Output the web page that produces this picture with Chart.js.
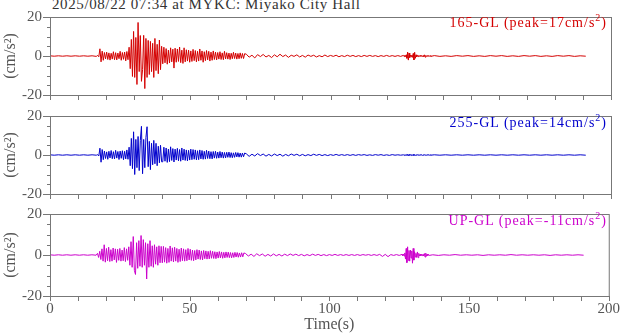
<!DOCTYPE html>
<html>
<head>
<meta charset="utf-8">
<script src="https://cdn.jsdelivr.net/npm/chart.js@4.4.0/dist/chart.umd.min.js"></script>
<style>
  body { margin: 0; background: #fff; }
  #wrap { position: relative; width: 624px; height: 334px; overflow: hidden; font-family: "Liberation Serif", serif; }
  canvas { position: absolute; left: 0; }
  .title { position: absolute; left: 52px; top: -3px; font-size: 15px; line-height: 14px; color: #333; letter-spacing: 0.6px; white-space: nowrap; }
  .peak { position: absolute; right: 17px; font-size: 14px; line-height: 14px; letter-spacing: 1px; white-space: nowrap; }
  .peak sup { font-size: 10px; line-height: 0; }
</style>
</head>
<body>
<div id="wrap">
  <div class="title">2025/08/22 07:34 at MYKC: Miyako City Hall</div>
  <canvas id="c1" width="624" height="112" style="top:0px"></canvas>
  <canvas id="c2" width="624" height="112" style="top:99px"></canvas>
  <canvas id="c3" width="624" height="137" style="top:197px"></canvas>
  <div class="peak" style="top:16px;color:#d40000">165-GL (peak=17cm/s<sup>2</sup>)</div>
  <div class="peak" style="top:116px;color:#0000cc">255-GL (peak=14cm/s<sup>2</sup>)</div>
  <div class="peak" style="top:214px;color:#cc00cc">UP-GL (peak=-11cm/s<sup>2</sup>)</div>
</div>
<script>
// sample timing of each record piece (s)
const segStart = [0, 17, 70, 126, 137];
const segStep = [1.5, 0.4, 1, 0.25, 2];

const yTickLabels = [-20, 0, 20];
const xTickLabels = [0, 50, 100, 150, 200];

// 165-GL (cm/s2)
const pre165 = [0.1,-0.1,0.1,-0.1,0.1,-0.1,0.1,-0.1,0.1,-0.1,0.1,-0.2];
const main165 = [
  0.3,-0.4,3.7,-3.0,2.5,
  -2.2,1.8,-1.5,2.0,-1.8,1.6,-2.1,1.4,-1.6,2.2,-1.9,1.7,-2.0,1.5,-1.4,2.4,-2.2,1.8,-1.7,2.0,-2.5,2.3,-1.9,
  4.5,-6.5,8.5,-10.5,12.6,-11.0,9.5,-14.6,17.2,-8.0,10.5,-13.0,-7.0,10.6,-16.7,9.0,-11.0,8.0,-9.5,7.5,-8.0,6.5,-11.0,9.0,-7.5,6.0,-9.1,8.2,-7.0,5.0,
  -4.0,4.5,-3.5,3.8,-4.2,3.0,-3.6,4.2,-3.0,3.5,-6.2,4.0,-3.2,3.6,-2.8,4.6,-3.4,3.0,-3.8,4.2,
  -3.0,3.2,-2.6,3.0,-3.2,2.6,-2.8,3.4,-2.4,2.8,-3.0,2.4,-2.6,3.6,-2.2,2.6,-3.2,2.2,-2.4,2.8,
  -2.0,2.4,-2.6,2.0,-2.2,2.6,-1.8,2.0,-2.0,1.8,-1.6,2.2,-1.8,1.6,-1.9,2.4,-1.5,1.7,-1.6,1.5,
  -1.8,1.4,-1.4,1.9,-1.3,1.5,-1.6,1.3,-1.4,1.6,-1.2,1.3,-1.3,1.2
];
const coda165 = [
  0.9,-0.6,0.4,-1.0,0.7,-0.3,0.8,-0.5,0.3,-0.8,0.6,-0.4,0.9,-0.3,0.5,-0.7,0.4,-0.2,0.6,-0.5,
  0.3,-0.6,0.5,-0.2,0.4,-0.5,0.2,-0.4,0.5,-0.3,0.3,-0.2,0.4,-0.4,0.2,-0.3,0.4,-0.2,0.3,-0.3,
  0.2,-0.3,0.3,-0.2,0.3,-0.2,0.2,-0.3,0.2,-0.2,0.3,-0.2,0.2,-0.2,0.2,-0.2
];
const late165 = [
  0.3,-0.3,0.4,-0.3,0.6,-1.2,2.0,-2.1,1.5,-0.8,0.5,-0.4,0.5,-0.7,1.3,-2.0,1.9,-1.2,0.6,-0.4,
  0.3,-0.3,0.3,-0.2,0.3,-0.2,0.2,-0.3,0.2,-0.3,0.6,-0.6,0.3,-0.2,0.2,-0.2,0.2,-0.2,0.2,-0.2
];
const tail165 = [0.2,-0.2,0.1,-0.2,0.2,-0.1,0.2,-0.2,0.1,-0.2,0.2,-0.1,0.2,-0.2,0.1,-0.2,0.2,-0.1,0.2,-0.2,0.1,-0.2,0.2,-0.1,0.2,-0.2,0.1,-0.1];

// 255-GL (cm/s2)
const pre255 = [0.1,-0.1,0.1,-0.1,0.1,-0.1,0.1,-0.1,0.1,-0.1,0.1,-0.1];
const main255 = [
  0.2,-0.5,3.5,-3.7,2.8,
  -2.4,2.0,-1.8,1.6,-2.2,1.9,-1.5,2.3,-1.9,1.7,-2.0,2.4,-1.6,1.8,-2.3,2.0,-1.7,2.2,-2.4,1.9,-2.0,2.6,-2.2,
  4.0,-5.5,8.5,-7.0,11.9,-10.0,8.0,-6.5,9.5,-8.0,7.5,14.7,-9.6,8.0,-6.5,9.0,14.5,-6.0,7.0,-7.5,6.0,-5.0,7.5,-4.5,6.0,-5.5,4.5,-4.0,5.0,-3.5,
  -3.5,4.0,-3.2,3.6,-3.8,3.0,-3.4,4.2,-2.8,3.3,-3.6,3.0,-2.6,3.4,-3.0,2.8,-3.2,3.6,-2.6,3.0,
  -2.8,2.6,-3.0,2.4,-2.6,3.0,-2.4,2.8,-2.2,2.6,-2.5,2.2,-2.4,2.6,-2.0,2.3,-2.2,1.9,-2.1,2.4,
  -1.8,2.0,-1.9,1.7,-2.0,1.8,-1.6,1.9,-1.7,1.5,-1.6,1.8,-1.4,1.5,-1.6,1.3,-1.5,1.4,-1.2,1.5,
  -1.3,1.2,-1.4,1.1,-1.2,1.3,-1.0,1.2,-1.1,1.0,-1.1,1.0,-0.9,1.0
];
const coda255 = [
  0.6,-0.7,0.4,-0.5,0.7,-0.3,0.5,-0.6,0.3,-0.5,0.5,-0.3,0.4,-0.6,0.3,-0.4,0.5,-0.2,0.4,-0.4,
  0.3,-0.4,0.2,-0.3,0.4,-0.2,0.3,-0.3,0.2,-0.3,0.2,-0.2,0.3,-0.2,0.2,-0.2,0.2,-0.2,0.2,-0.2,
  0.2,-0.1,0.2,-0.2,0.1,-0.2,0.2,-0.1,0.2,-0.2,0.1,-0.2,0.2,-0.1,0.1,-0.1
];
const late255 = [
  0.1,-0.2,0.2,-0.1,0.2,-0.2,0.3,-0.4,0.3,-0.2,0.1,-0.2,0.2,-0.2,0.3,-0.3,0.2,-0.2,0.1,-0.1,
  0.1,-0.1,0.2,-0.1,0.1,-0.1,0.1,-0.2,0.1,-0.1,0.1,-0.1,0.1,-0.1,0.1,-0.1,0.1,-0.1,0.1,-0.1
];
const tail255 = [0.1,-0.1,0.1,-0.1,0.1,-0.1,0.1,-0.1,0.1,-0.1,0.1,-0.1,0.1,-0.1,0.1,-0.1,0.1,-0.1,0.1,-0.1,0.1,-0.1,0.1,-0.1,0.1,-0.1,0.1,-0.1];

// UP-GL (cm/s2)
const preUP = [0.1,-0.1,0.1,-0.1,0.1,-0.1,0.1,-0.1,0.1,-0.1,0.1,-0.1];
const mainUP = [
  0.8,-1.2,1.8,-2.2,3.0,
  -3.0,5.0,-3.5,3.2,-2.8,3.8,-3.2,2.6,-3.0,3.4,-2.4,3.0,-3.6,2.8,-2.6,3.2,-3.0,2.4,-2.8,3.6,-3.2,3.0,-2.6,
  4.0,-5.0,6.5,-6.0,9.0,-7.5,-9.5,6.0,-6.5,7.0,-5.5,9.5,-6.0,7.5,-5.0,6.0,-11.7,5.5,-6.0,7.0,-5.5,4.5,-6.0,5.0,-4.5,4.0,-5.0,4.5,-3.8,4.2,
  -3.8,4.2,-3.5,3.6,-4.0,3.2,-3.6,4.4,-3.0,3.5,-3.4,3.8,-3.0,3.2,-3.6,2.8,-3.2,3.4,-2.8,3.0,
  -3.0,2.6,-2.8,3.2,-2.4,2.8,-2.6,2.4,-2.8,2.2,-2.4,2.6,-2.0,2.4,-2.2,2.0,-2.4,2.2,-1.8,2.0,
  -2.0,1.8,-1.9,2.1,-1.6,1.8,-1.7,1.6,-1.8,1.5,-1.5,1.7,-1.4,1.5,-1.6,1.3,-1.4,1.5,-1.2,1.4,
  -1.3,1.2,-1.4,1.1,-1.2,1.3,-1.0,1.2,-1.1,1.0,-1.0,1.1,-0.9,1.0
];
const codaUP = [
  0.7,-0.5,0.4,-0.7,0.6,-0.3,0.5,-0.6,0.3,-0.5,0.5,-0.4,0.3,-0.5,0.4,-0.3,0.5,-0.2,0.4,-0.3,
  0.3,-0.4,0.2,-0.3,0.4,-0.2,0.3,-0.3,0.2,-0.3,0.2,-0.2,0.3,-0.2,0.2,-0.2,0.2,-0.2,0.2,-0.2,
  0.2,-0.2,0.2,-0.1,0.2,-0.2,0.2,-0.2,0.3,-0.7,0.3,-0.8,0.2,-0.2,0.2,-0.2
];
const lateUP = [
  0.3,-0.3,0.4,-0.5,1.0,-2.0,3.2,-3.7,4.0,-2.6,2.2,-3.0,2.4,-1.5,2.0,-4.0,3.2,-2.5,1.6,-1.0,
  0.8,-1.2,1.5,-1.3,0.8,-0.5,0.4,-0.4,0.3,-0.3,0.4,-0.5,0.7,-1.0,0.9,-0.6,0.4,-0.3,0.3,-0.2
];
const tailUP = [0.1,-0.2,0.1,-0.1,0.2,-0.1,0.1,-0.1,0.1,-0.2,0.1,-0.1,0.1,-0.1,0.2,-0.1,0.1,-0.1,0.1,-0.1,0.1,-0.2,0.1,-0.1,0.1,-0.1,0.1,-0.1];

function toPoints(pieces) {
  const pts = [];
  pieces.forEach((vals, k) => {
    vals.forEach((v, i) => pts.push({ x: segStart[k] + segStep[k] * i, y: v }));
  });
  return pts;
}

// box + outward ticks like the original plot
const frame = {
  id: "frame",
  afterDraw(chart) {
    const { ctx, chartArea: a, scales } = chart;
    ctx.save();
    ctx.strokeStyle = "#777";
    ctx.lineWidth = 1;
    ctx.strokeRect(a.left + 0.5, a.top + 0.5, a.right - a.left, a.bottom - a.top);
    ctx.beginPath();
    for (let v = -20; v <= 20; v += 5) {
      const py = Math.round(scales.y.getPixelForValue(v)) + 0.5;
      const len = v % 20 === 0 ? 7 : 3;
      ctx.moveTo(a.left - len, py);
      ctx.lineTo(a.left, py);
    }
    for (let v = 0; v <= 200; v += 10) {
      const px = Math.round(scales.x.getPixelForValue(v)) + 0.5;
      ctx.moveTo(px, a.bottom);
      ctx.lineTo(px, a.bottom + 5);
    }
    ctx.stroke();
    ctx.restore();
  },
};

function makePanel(id, color, pieces, xAxisH, showX) {
  const tickFont = { family: "'Liberation Serif', serif", size: 15 };
  return new Chart(document.getElementById(id), {
    type: "line",
    data: {
      datasets: [{
        data: toPoints(pieces),
        borderColor: color,
        borderWidth: 1,
        pointRadius: 0,
        tension: 0,
      }],
    },
    options: {
      responsive: false,
      animation: false,
      events: [],
      layout: { padding: { top: 15, right: 13, left: 0, bottom: 0 } },
      plugins: { legend: { display: false }, tooltip: { enabled: false } },
      scales: {
        x: {
          type: "linear",
          min: 0,
          max: 200,
          grid: { display: false, drawTicks: false },
          border: { display: false },
          ticks: {
            display: showX,
            stepSize: 50,
            autoSkip: false,
            maxRotation: 0,
            padding: 4,
            color: "#555",
            font: tickFont,
            callback: (v) => (xTickLabels.includes(v) ? String(v) : ""),
          },
          title: {
            display: showX,
            text: "Time(s)",
            color: "#555",
            font: { family: "'Liberation Serif', serif", size: 16 },
            padding: { top: 0, bottom: 0 },
          },
          afterFit: (s) => { s.height = xAxisH; },
        },
        y: {
          min: -20,
          max: 20,
          grid: { display: false, drawTicks: false },
          border: { display: false },
          ticks: {
            stepSize: 5,
            autoSkip: false,
            padding: 8,
            color: "#555",
            font: tickFont,
            callback: (v) => (yTickLabels.includes(v) ? String(v) : ""),
          },
          title: {
            display: true,
            text: "(cm/s²)",
            color: "#555",
            font: { family: "'Liberation Serif', serif", size: 16 },
            padding: { top: 1, bottom: 0 },
          },
          afterFit: (s) => { s.width = 50; },
        },
      },
    },
    plugins: [frame],
  });
}

makePanel("c1", "#d40000", [pre165, main165, coda165, late165, tail165], 14, false);
makePanel("c2", "#0000cc", [pre255, main255, coda255, late255, tail255], 14, false);
makePanel("c3", "#cc00cc", [preUP, mainUP, codaUP, lateUP, tailUP], 38, true);
</script>
</body>
</html>
